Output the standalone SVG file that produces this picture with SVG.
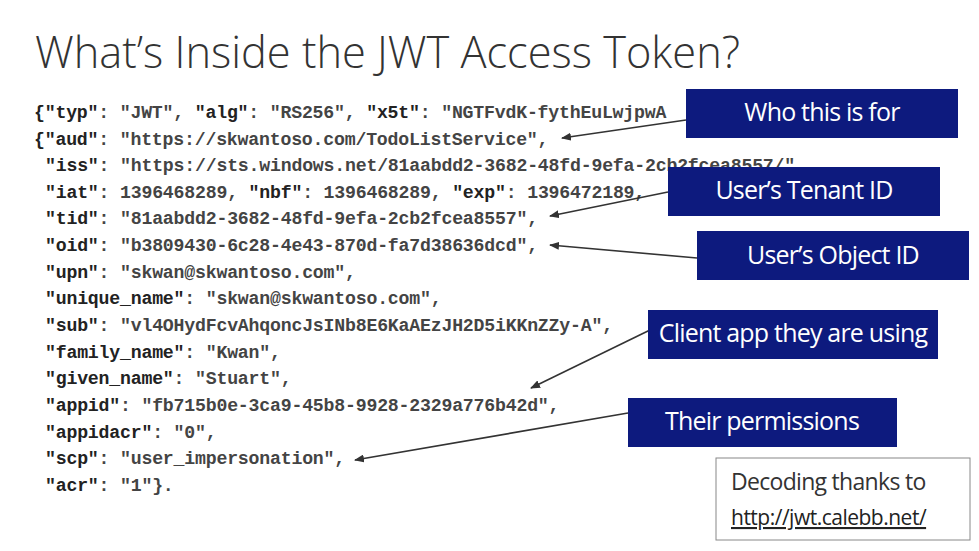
<svg xmlns="http://www.w3.org/2000/svg" width="979" height="551" viewBox="0 0 979 551">
<defs>
<marker id="ah" markerWidth="10" markerHeight="8" refX="9" refY="4" orient="auto" markerUnits="userSpaceOnUse"><path d="M0,0 L10,4 L0,8 Z" fill="#333"/></marker>
<style>
.code{font-family:"Liberation Mono","DejaVu Sans Mono",monospace;font-size:18.2px;fill:#444;font-weight:bold;letter-spacing:-0.2px}
.k{font-weight:bold;fill:#222}
.box{fill:#0d1a7e}
.bt{font-family:"Open Sans","Liberation Sans",sans-serif;font-size:25px;fill:#fff;text-anchor:middle;letter-spacing:-0.8px}
.conn line{stroke:#333;stroke-width:1.6;marker-end:url(#ah)}
</style>
</defs>
<rect width="979" height="551" fill="#fff"/>
<text x="35" y="68" font-family="Open Sans, Liberation Sans, sans-serif" font-size="44" font-weight="300" fill="#333" textLength="705" lengthAdjust="spacingAndGlyphs">What’s Inside the JWT Access Token?</text>
<g id="code" class="code">
<text x="34" y="118"><tspan class="k">{"typ"</tspan>: "JWT", <tspan class="k">"alg"</tspan>: "RS256", <tspan class="k">"x5t"</tspan>: "NGTFvdK-fythEuLwjpwA</text>
<text x="34" y="145"><tspan class="k">{"aud"</tspan>: "https://skwantoso.com/TodoListService",</text>
<text x="45" y="171"><tspan class="k">"iss"</tspan>: "https://sts.windows.net/81aabdd2-3682-48fd-9efa-2cb2fcea8557/",</text>
<text x="45" y="198"><tspan class="k">"iat"</tspan>: 1396468289, <tspan class="k">"nbf"</tspan>: 1396468289, <tspan class="k">"exp"</tspan>: 1396472189,</text>
<text x="45" y="224"><tspan class="k">"tid"</tspan>: "81aabdd2-3682-48fd-9efa-2cb2fcea8557",</text>
<text x="45" y="251"><tspan class="k">"oid"</tspan>: "b3809430-6c28-4e43-870d-fa7d38636dcd",</text>
<text x="45" y="278"><tspan class="k">"upn"</tspan>: "skwan@skwantoso.com",</text>
<text x="45" y="304"><tspan class="k">"unique_name"</tspan>: "skwan@skwantoso.com",</text>
<text x="45" y="331"><tspan class="k">"sub"</tspan>: "vl4OHydFcvAhqoncJsINb8E6KaAEzJH2D5iKKnZZy-A",</text>
<text x="45" y="358"><tspan class="k">"family_name"</tspan>: "Kwan",</text>
<text x="45" y="384"><tspan class="k">"given_name"</tspan>: "Stuart",</text>
<text x="45" y="411"><tspan class="k">"appid"</tspan>: "fb715b0e-3ca9-45b8-9928-2329a776b42d",</text>
<text x="45" y="438"><tspan class="k">"appidacr"</tspan>: "0",</text>
<text x="45" y="464"><tspan class="k">"scp"</tspan>: "user_impersonation",</text>
<text x="45" y="491"><tspan class="k">"acr"</tspan>: "1"}.</text>
</g>
<g id="connectors" class="conn">
<line x1="686" y1="120" x2="562" y2="138"/>
<line x1="668" y1="192" x2="550" y2="216"/>
<line x1="697" y1="258" x2="550" y2="245"/>
<line x1="650" y1="330" x2="531" y2="388"/>
<line x1="628" y1="413" x2="355" y2="460"/>
</g>
<g id="who"><rect class="box" x="686" y="89" width="272" height="49"/><text class="bt" x="822" y="121">Who this is for</text></g>
<g id="tenant"><rect class="box" x="668" y="167" width="272" height="49"/><text class="bt" x="804" y="199">User’s Tenant ID</text></g>
<g id="object"><rect class="box" x="697" y="231" width="272" height="49"/><text class="bt" x="833" y="264">User’s Object ID</text></g>
<g id="client"><rect class="box" x="648" y="310" width="290" height="49"/><text class="bt" x="793" y="342">Client app they are using</text></g>
<g id="perm"><rect class="box" x="628" y="398" width="269" height="49"/><text class="bt" x="762" y="430">Their permissions</text></g>
<g id="decode"><rect x="716" y="458" width="254" height="82" fill="#fff" stroke="#888" stroke-width="1"/>
<text x="731" y="490" font-family="Open Sans, Liberation Sans, sans-serif" font-size="23" fill="#333" letter-spacing="-0.7">Decoding thanks to</text>
<text x="731" y="525" font-family="Open Sans, Liberation Sans, sans-serif" font-size="21" fill="#222" letter-spacing="-0.5" text-decoration="underline">http://jwt.calebb.net/</text></g>
</svg>
